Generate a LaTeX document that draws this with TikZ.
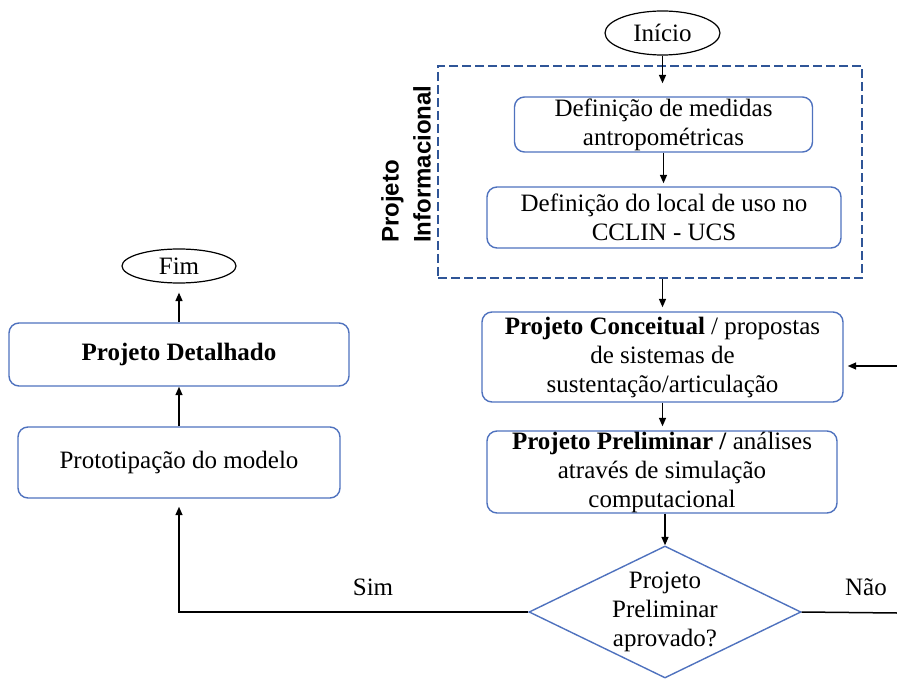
\documentclass[tikz,border=0pt]{standalone}
\usepackage{fontspec}
\setmainfont{Liberation Serif}
\newfontfamily\labelsans{Liberation Sans}
\usetikzlibrary{shapes.geometric,arrows.meta}
\definecolor{boxblue}{RGB}{79,114,190}
\definecolor{groupblue}{RGB}{47,85,151}
\newcommand{\flowtext}{\fontsize{25}{29}\selectfont}
\begin{document}
\begin{tikzpicture}[x=1pt,y=1pt,
  flowbox/.style={draw=boxblue, line width=1.4pt, rounded corners=10pt,
    align=center, inner sep=0pt, font=\flowtext},
  terminal/.style={ellipse, draw=black, line width=1.2pt, inner sep=0pt,
    font=\flowtext},
  decision/.style={diamond, draw=boxblue, line width=1.4pt, inner sep=0pt},
  conn/.style={line width=1.5pt, -{Triangle[length=8.5pt,width=7pt]}},
  plainline/.style={line width=1.5pt},
  tag/.style={font=\flowtext, inner sep=0pt}]
\useasboundingbox (0,0) rectangle (897,-679);

% informational design group
\node (info) [draw=groupblue, line width=2.8pt, dash pattern=on 9pt off 4pt,
  minimum width=424pt, minimum height=212pt, inner sep=0pt] at (650,-172) {};
\node (infolabel) [rotate=90, anchor=south west, align=left, inner sep=0pt,
  font=\labelsans\bfseries\fontsize{24}{32}\selectfont] at (431,-243)
  {Projeto\\Informacional};

% right column
\node (inicio) [terminal, minimum width=115pt, minimum height=44pt] at (662.5,-33) {Início};
\node (def1) [flowbox, minimum width=298pt, minimum height=55pt] at (663.5,-124.5)
  {Definição de medidas\\antropométricas};
\node (def2) [flowbox, minimum width=354pt, minimum height=61pt] at (664,-217.5)
  {Definição do local de uso no\\CCLIN - UCS};
\node (conc) [flowbox, minimum width=361pt, minimum height=90pt] at (662.5,-357)
  {\textbf{Projeto Conceitual} / propostas\\de sistemas de\\sustentação/articulação};
\node (prel) [flowbox, minimum width=350pt, minimum height=82pt] at (662,-472)
  {\textbf{Projeto Preliminar /} análises\\através de simulação\\computacional};
\node (dec) [decision, minimum width=272pt, minimum height=132pt,
  label={[align=center, font=\flowtext]center:Projeto\\Preliminar\\aprovado?}]
  at (665,-612) {};

% left column
\node (proto) [flowbox, minimum width=322pt, minimum height=71pt] at (179,-462.5)
  {Prototipação do modelo};
\node (det) [flowbox, minimum width=340pt, minimum height=63pt] at (179,-354.5)
  {\textbf{Projeto Detalhado}};
\node (fim) [terminal, minimum width=114pt, minimum height=34pt] at (179,-266) {Fim};

% branch labels
\node (sim) [tag, anchor=base] at (373,-595) {Sim};
\node (nao) [tag, anchor=base] at (866,-595) {Não};

% loose ends at the right border
\coordinate (retorno) at (897,-366);
\coordinate (saida) at (897,-613);

% connectors (kept vertical along the column axis)
\draw[conn, shorten >=13pt] (inicio.south) -- (inicio.south |- def1.north);
\draw[conn, shorten >=3pt] (def1.south) -- (def1.south |- def2.north);
\draw[conn, shorten >=4pt] (conc.north |- info.south) -- (conc.north);
\draw[conn, shorten >=4pt] (conc.south) -- (conc.south |- prel.north);
\draw[conn] (dec.north |- prel.south) -- (dec.north);
\draw[conn, shorten >=4pt] (retorno) -- (conc.east |- retorno);
\draw[plainline] (dec.east) -- (saida);
\draw[conn, shorten >=8pt] (dec.west) -| (proto.south);
\draw[conn] (proto.north) -- (det.south);
\draw[conn, shorten >=9pt] (det.north) -- (fim.south);
\end{tikzpicture}
\end{document}
